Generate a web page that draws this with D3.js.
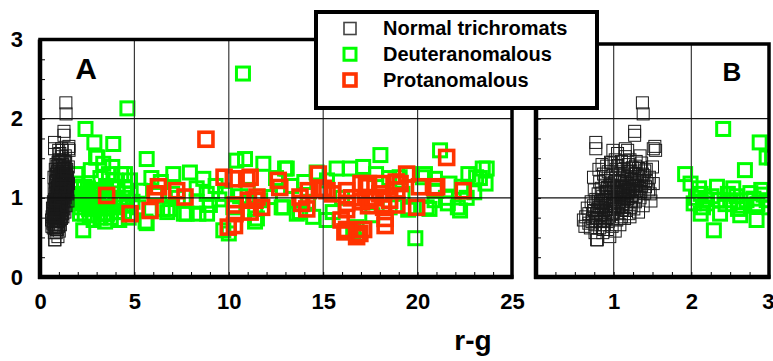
<!DOCTYPE html>
<html><head><meta charset="utf-8">
<script src="https://cdn.jsdelivr.net/npm/d3@7"></script>
<style>
body{margin:0;background:#fff}
svg{display:block}
text{font-family:"Liberation Sans",Arial,Helvetica,sans-serif;font-weight:bold;fill:#000}
</style>
</head><body>
<svg id="c" width="773" height="361"></svg>
<script>
// ---------- data ----------
const seriesNames = ["Normal trichromats", "Deuteranomalous", "Protanomalous"];
const seriesColors = ["#1a1a1a", "#00ff00", "#ff3300"];

const normalPts = [
[1.37,2.20],[1.38,2.06],[1.27,1.84],[0.77,1.70],[0.77,1.62],[1.53,1.65],[1.54,1.60],[1.50,1.39],[1.18,1.60],[1.05,1.56],[0.96,1.45],[0.66,0.87],[0.64,0.76],[0.79,0.47],[0.87,0.60],
[0.99,1.60],[1.15,1.62],[1.27,1.79],[1.51,1.62],[1.34,1.53],[0.74,1.26],[0.61,0.72],[0.63,0.64],[0.78,0.47],[1.21,0.76],[0.95,0.51],[1.47,1.05],[1.51,1.18],
[0.70,0.62],[0.72,0.70],[0.73,0.80],[0.74,0.90],[0.71,0.95],[0.76,0.66],[0.78,0.75],[0.79,0.85],[0.77,0.98],[0.80,1.05],[0.75,1.10],[0.82,0.62],[0.83,0.70],[0.84,0.79],[0.85,0.88],[0.83,0.95],[0.86,1.02],[0.84,1.12],[0.82,1.20],
[0.88,0.66],[0.89,0.74],[0.90,0.82],[0.91,0.90],[0.88,0.97],[0.90,1.05],[0.92,1.13],[0.89,1.22],[0.87,1.30],[0.93,0.70],[0.94,0.78],[0.95,0.86],[0.96,0.93],[0.94,1.00],[0.97,1.08],[0.95,1.16],[0.96,1.25],[0.93,1.33],
[0.98,0.64],[0.99,0.74],[1.00,0.82],[1.01,0.90],[0.99,0.98],[1.02,1.04],[1.00,1.12],[1.01,1.20],[0.99,1.28],[1.03,1.36],[1.04,0.72],[1.05,0.80],[1.06,0.88],[1.04,0.95],[1.07,1.01],[1.05,1.08],[1.08,1.15],[1.06,1.22],[1.07,1.30],[1.05,1.40],
[1.10,0.76],[1.11,0.85],[1.12,0.93],[1.10,1.00],[1.13,1.06],[1.11,1.13],[1.14,1.20],[1.12,1.28],[1.13,1.36],[1.16,0.84],[1.17,0.92],[1.18,0.99],[1.16,1.05],[1.19,1.11],[1.17,1.18],[1.20,1.25],[1.18,1.33],[1.19,1.42],
[1.22,0.88],[1.23,0.96],[1.24,1.03],[1.22,1.10],[1.25,1.16],[1.23,1.23],[1.26,1.30],[1.24,1.38],[1.28,0.95],[1.29,1.02],[1.30,1.09],[1.28,1.15],[1.31,1.22],[1.29,1.30],[1.32,1.37],
[1.34,1.00],[1.35,1.08],[1.36,1.15],[1.34,1.22],[1.37,1.30],[1.40,1.06],[1.41,1.14],[1.42,1.22],[1.39,1.28],[1.45,1.10],[1.44,1.18],
[1.08,0.66],[1.14,0.74],[1.20,0.80],[1.26,0.86],[0.92,0.60],[1.02,0.58],[0.86,0.56],[0.76,0.56],[0.68,0.80],[0.68,0.68],
[0.81,1.36],[0.85,1.42],[0.91,1.40],[0.97,1.44],[1.02,1.48],[1.10,1.46],[1.15,1.52],[1.21,1.48],[1.29,1.46],[1.36,1.44],[1.42,1.36],[1.46,1.26],[1.48,0.96],[1.38,0.90],[1.32,0.82],
[0.78,0.80],[0.81,0.88],[0.84,0.93],[0.87,0.84],[0.90,0.93],[0.93,0.98],[0.96,1.02],[0.98,0.90],[1.01,0.96],[1.03,1.00],[1.06,0.94],[1.08,1.04],[1.09,1.09],[1.12,1.02],[1.15,1.10],[1.14,0.98],[1.18,1.06],[1.21,1.14],[1.21,1.02],[1.24,1.20],[1.27,1.08],[1.27,1.25],[1.30,1.16],[1.33,1.27],
[0.91,1.08],[0.94,1.12],[0.98,1.16],[1.03,1.22],[1.08,1.26],[1.14,1.30],[1.02,0.86],[0.97,0.80],[0.92,0.76],[0.86,0.72],[0.81,0.78],[1.07,0.90],[1.12,0.88],[1.16,0.96],[1.20,1.08],[1.25,1.12],[0.89,1.16],[0.85,1.06],[0.80,0.96],[0.75,0.84],[0.73,0.74],
[1.00,1.06],[1.04,1.14],[1.09,1.20],[1.17,1.24],[1.22,1.34],[1.28,1.40],[1.33,1.12],[1.38,1.20],[1.40,1.34]
];

const deutPts = [
[2.41,1.87],[2.88,1.70],[2.97,1.51],[2.69,1.35],[1.92,1.30],[1.99,1.18],[2.12,1.05],[2.54,1.12],[2.90,1.10],[2.37,0.80],[2.29,0.59],[2.63,0.78],[2.84,0.72],[2.12,0.80],[2.20,0.93],[2.37,0.97],[2.50,0.97],[2.71,0.97],[2.97,0.97],[2.03,0.93],[3.00,0.88],[2.80,0.99],[2.33,1.14],[2.06,1.00],[2.15,0.88],[2.26,1.02],[2.44,0.92],[2.58,1.02],[2.66,0.90],[2.76,1.06],[2.85,0.92],[2.93,1.04],[2.10,1.12],[2.47,1.05],[2.18,0.98],[2.60,0.86],
[3.04,1.51],[3.83,1.39],[3.88,1.68],[3.35,1.43],[4.50,1.30],[4.77,1.22],[3.88,1.14],[3.70,1.00],[3.53,0.80],[4.24,0.93],[4.63,2.13],[3.39,0.80],[4.45,0.82],[3.20,1.25],[3.50,1.15],[4.10,1.12],[4.40,1.00],[3.30,1.00],[3.60,0.95],[3.90,0.88],[4.60,0.90],[3.10,0.90],[4.00,1.22],[4.30,1.30],[4.90,0.95],[4.20,0.72],[3.57,0.80],[3.15,1.10],[3.45,0.70],[4.80,1.05],
[3.20,0.75],[3.75,0.75],[4.00,1.00],[4.50,1.12],[3.45,1.05],[4.15,0.82],[3.65,1.30],[4.70,0.75],
[5.65,1.49],[5.65,0.68],[5.30,1.09],[6.10,1.06],[6.50,0.86],[6.89,0.86],[7.06,1.30],[7.94,1.32],[8.65,1.24],[8.30,1.12],[8.83,1.05],[9.00,0.91],[8.39,0.80],[7.77,0.80],[7.30,1.00],[8.30,0.95],[9.71,0.59],[5.59,0.70],[6.74,0.82],[7.62,0.80],[8.85,0.80],[5.20,0.88],[6.40,1.20],[9.30,1.15],[9.50,0.98],[5.90,1.25],[7.00,1.05],[9.80,1.05],
[10.75,2.57],[10.40,1.47],[10.24,0.88],[10.86,1.49],[11.83,1.43],[12.98,1.37],[11.39,0.70],[11.40,0.86],[12.80,0.88],[13.77,0.82],[14.47,0.76],[12.18,1.01],[14.65,1.32],[11.49,0.74],[11.66,0.97],[12.89,0.88],[13.60,0.80],[13.07,1.37],[10.00,0.55],[11.00,1.10],[13.30,1.15],[14.00,1.20],[12.50,1.25],[10.60,1.02],[14.20,0.95],
[15.71,1.37],[16.42,1.37],[15.18,0.72],[16.77,0.63],[16.59,0.57],[15.50,0.82],[18.03,1.54],[19.88,0.49],[17.12,1.39],[18.52,0.88],[19.58,0.88],[19.50,0.85],[19.60,1.30],[19.05,1.26],[15.20,1.22],[17.80,1.30],[18.50,1.25],[16.00,1.00],[17.60,0.78],[19.20,1.05],
[21.19,1.60],[23.66,1.37],[22.69,1.30],[23.30,1.25],[22.33,1.14],[23.00,1.07],[22.25,0.84],[21.60,0.93],[20.90,0.97],[20.92,1.24],[20.39,1.30],[20.48,0.88],[20.63,0.86],[20.99,1.09],[21.50,1.00],[21.69,1.18],[20.28,1.26],[22.60,1.00],[23.60,1.18],[22.13,0.88],[23.45,1.37],[23.10,1.26]
];

const protPts = [
[8.79,1.74],[3.53,1.03],[4.77,0.80],[5.83,0.84],[6.27,1.14],[6.10,1.05],[7.24,1.09],[7.68,1.01],[9.75,1.26],[9.97,0.63],[10.30,0.65],[10.24,1.24],[10.95,1.24],[11.39,0.97],[10.33,0.80],[10.34,0.91],[11.04,0.97],[11.13,0.82],[11.74,0.88],[11.49,1.01],[11.13,1.26],
[12.62,1.22],[12.70,1.13],[13.77,1.01],[14.21,1.09],[14.74,1.30],[14.80,1.11],[14.13,0.86],[13.86,0.93],[15.20,1.09],[15.00,1.12],[16.24,1.09],[16.24,0.85],[16.24,0.93],[16.24,0.60],[16.15,0.57],[16.94,0.55],[16.77,0.51],[15.95,0.72],[17.03,0.95],[17.00,1.18],[17.29,1.14],[16.50,1.00],[15.50,1.05],
[18.00,1.05],[18.01,1.18],[17.40,1.18],[19.42,1.30],[19.07,1.18],[18.87,1.20],[18.90,1.10],[21.54,1.51],[21.01,1.14],[20.90,1.13],[22.42,1.09],[19.95,0.88],[18.90,0.91],[18.20,0.88],[17.40,0.90],[18.28,0.65],[18.28,0.74],[17.14,0.60],[17.60,1.00],[20.10,1.14],[18.52,0.97],[17.47,0.97]
];

const yLabels = [0, 1, 2, 3];
const xLabelsA = [0, 5, 10, 15, 20, 25];
const xLabelsB = [1, 2, 3];
const gridXA = [5, 10, 15, 20];
const gridXB = [1, 2];
const gridY = [1, 2];
const axisTitle = "r-g";

// ---------- layout ----------
const svg = d3.select("#c");
const y = d3.scaleLinear().domain([0, 3]).range([277, 39.5]);
const xA = d3.scaleLinear().domain([0, 25]).range([40, 512]);
const xB = d3.scaleLinear().domain([0, 3]).range([536, 769]);

const panels = [
  {id: "A", x: xA, top: 39.5, grid: gridXA, minor: d3.range(1, 25), labels: xLabelsA, tag: [86, 79, 30]},
  {id: "B", x: xB, top: 44, grid: gridXB, minor: d3.range(1, 12).map(d => d * 0.25), labels: xLabelsB, tag: [732, 81, 26]}
];

const series = [
  {pts: deutPts, color: seriesColors[1], size: 13, sw: 3},
  {pts: protPts, color: seriesColors[2], size: 14, sw: 3.6},
  {pts: normalPts, color: seriesColors[0], size: 12, sw: 1}
];

panels.forEach(p => {
  const x = p.x;
  const [x0, x1] = x.range();
  const bottom = y(0);
  const g = svg.append("g");
  svg.append("clipPath").attr("id", "clip" + p.id)
    .append("rect").attr("x", x0).attr("y", p.top).attr("width", x1 - x0).attr("height", bottom - p.top);

  const pg = g.append("g").attr("clip-path", `url(#clip${p.id})`);
  series.forEach(s => {
    pg.append("g").selectAll("rect").data(s.pts).join("rect")
      .attr("x", d => x(d[0]) - s.size / 2)
      .attr("y", d => y(d[1]) - s.size / 2)
      .attr("width", s.size).attr("height", s.size)
      .attr("fill", "none").attr("stroke", s.color).attr("stroke-width", s.sw);
  });

  // grid lines
  g.append("g").selectAll("line").data(p.grid).join("line")
    .attr("x1", d => x(d)).attr("x2", d => x(d)).attr("y1", p.top).attr("y2", bottom)
    .attr("stroke", "#3a3a3a").attr("stroke-width", 1.2);
  g.append("g").selectAll("line").data(gridY).join("line")
    .attr("x1", x0).attr("x2", x1).attr("y1", d => y(d)).attr("y2", d => y(d))
    .attr("stroke", "#111").attr("stroke-width", 1.2);

  // minor ticks
  const xt = g.append("g").attr("transform", `translate(0,${bottom})`)
    .call(d3.axisBottom(x).tickValues(p.minor).tickSize(-5).tickFormat(""));
  xt.select(".domain").remove();
  xt.selectAll("line").attr("stroke", "#000").attr("stroke-width", 1);
  const yt = g.append("g").attr("transform", `translate(${x0},0)`)
    .call(d3.axisLeft(y).tickValues(d3.range(1, 12).map(d => d * 0.25)).tickSize(-5).tickFormat(""));
  yt.select(".domain").remove();
  yt.selectAll("line").attr("stroke", "#000").attr("stroke-width", 1);

  // frame
  g.append("rect").attr("x", x0).attr("y", p.top).attr("width", x1 - x0).attr("height", bottom - p.top)
    .attr("fill", "none").attr("stroke", "#000").attr("stroke-width", 3.5);
  g.append("line").attr("x1", x0).attr("x2", x0).attr("y1", p.top).attr("y2", bottom + 2)
    .attr("stroke", "#000").attr("stroke-width", 4.5);
  g.append("line").attr("x1", x0 - 2).attr("x2", x1 + 1.5).attr("y1", bottom).attr("y2", bottom)
    .attr("stroke", "#000").attr("stroke-width", 4.5);

  // x labels
  const xl = g.append("g").attr("transform", `translate(0,${bottom})`)
    .call(d3.axisBottom(x).tickValues(p.labels).tickSize(0).tickPadding(16).tickFormat(d3.format("d")));
  xl.select(".domain").remove();
  xl.selectAll("text").attr("font-size", 22).attr("font-family", null);
  // keep the last label of panel B inside the window
  if (p.id === "B") xl.selectAll("text").filter(d => d === 3).attr("text-anchor", "end").attr("dx", 5);

  // panel tag
  g.append("text").attr("x", p.tag[0]).attr("y", p.tag[1]).attr("text-anchor", "middle")
    .attr("font-size", p.tag[2]).text(p.id);
});

// y labels (left of panel A)
const yl = svg.append("g").attr("transform", `translate(${xA(0)},0)`)
  .call(d3.axisLeft(y).tickValues(yLabels).tickSize(0).tickPadding(17).tickFormat(d3.format("d")));
yl.select(".domain").remove();
yl.selectAll("text").attr("font-size", 22).attr("font-family", null);

// axis title
svg.append("text").attr("x", 473).attr("y", 350).attr("text-anchor", "middle")
  .attr("font-size", 28).text(axisTitle);

// legend
const lg = svg.append("g");
lg.append("rect").attr("x", 316).attr("y", 12).attr("width", 281).attr("height", 96)
  .attr("fill", "#fff").attr("stroke", "#000").attr("stroke-width", 4);
const legendRows = [
  {name: seriesNames[0], color: "#444", size: 12, sw: 1.6},
  {name: seriesNames[1], color: seriesColors[1], size: 12, sw: 3},
  {name: seriesNames[2], color: seriesColors[2], size: 12, sw: 3.6}
];
const rowY = d3.scalePoint().domain(legendRows.map(d => d.name)).range([28.5, 80]);
legendRows.forEach(r => {
  lg.append("rect").attr("x", 350 - r.size / 2).attr("y", rowY(r.name) - r.size / 2)
    .attr("width", r.size).attr("height", r.size)
    .attr("fill", "none").attr("stroke", r.color).attr("stroke-width", r.sw);
  lg.append("text").attr("x", 383).attr("y", rowY(r.name) + 6.5)
    .attr("font-size", 20).text(r.name);
});
</script>
</body></html>
